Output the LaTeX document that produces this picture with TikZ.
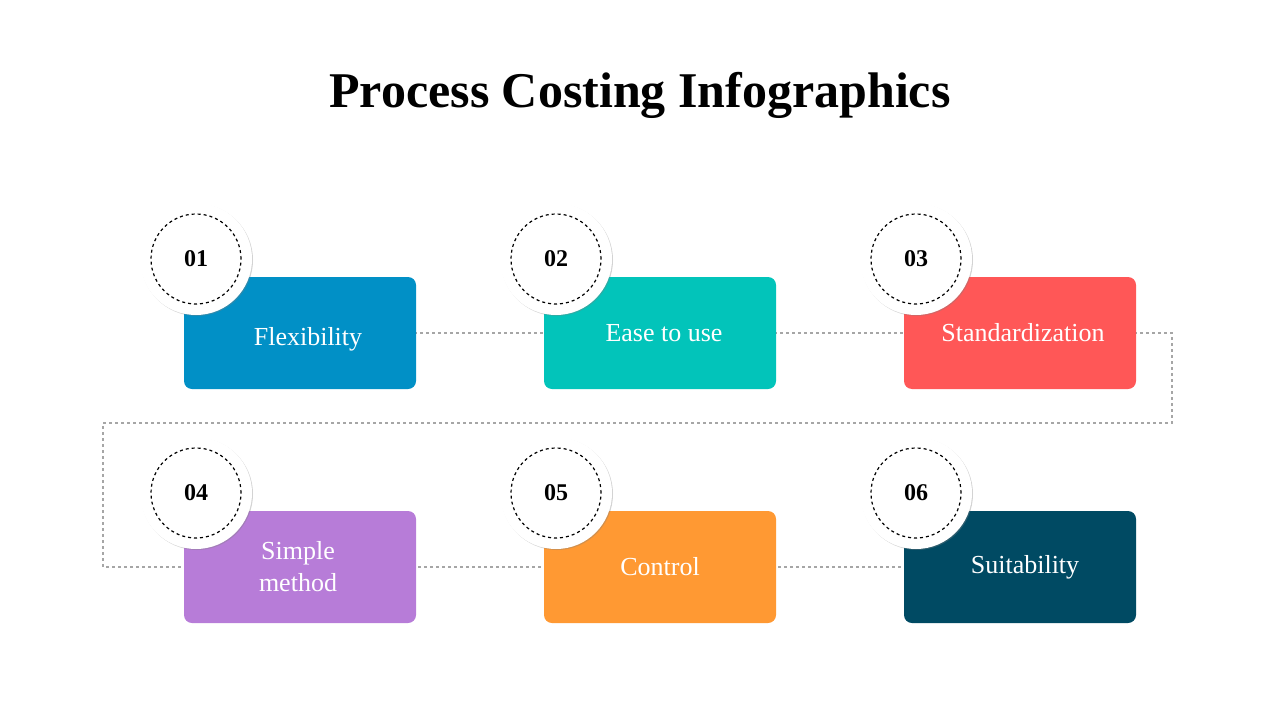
\documentclass[tikz,border=0pt]{standalone}
\usepackage{fontspec}
\setmainfont{Liberation Serif}
\usetikzlibrary{shadows}
\definecolor{c1}{HTML}{0190C6}
\definecolor{c2}{HTML}{02C4BA}
\definecolor{c3}{HTML}{FF5757}
\definecolor{c4}{HTML}{B77CD8}
\definecolor{c5}{HTML}{FF9933}
\definecolor{c6}{HTML}{004A63}
\tikzset{
 card/.style={rounded corners=8pt, minimum width=232pt, minimum height=112pt, inner sep=0pt},
 lbl/.style={text=white, font=\fontsize{26}{30}\selectfont, align=center},
 badge/.style={circle, fill=white, minimum size=112pt, inner sep=0pt, drop shadow={opacity=0.35, shadow xshift=1pt, shadow yshift=-1pt}},
 ring/.style={circle, draw=black, dashed, line width=1.2pt, minimum size=90pt, inner sep=0pt, font=\bfseries\fontsize{24}{28}\selectfont},
 link/.style={draw=gray!70, dashed, line width=1.2pt}
}
\begin{document}
\begin{tikzpicture}[x=1pt,y=-1pt]
\useasboundingbox (0,0) rectangle (1280,720);
\node[font=\bfseries\fontsize{50}{56}\selectfont] (title) at (640,95) {Process Costing Infographics};
\coordinate (r1) at (1172,333);
\coordinate (r2) at (1172,423);
\coordinate (l1) at (103,423);
\coordinate (l2) at (103,567);
\draw[link] (300,333) -- (1020,333) -- (r1) -- (r2) -- (l1) -- (l2) -- (1020,567);
\node[card, fill=c1] (b1) at (300,333) {};
\node[card, fill=c2] (b2) at (660,333) {};
\node[card, fill=c3] (b3) at (1020,333) {};
\node[card, fill=c4] (b4) at (300,567) {};
\node[card, fill=c5] (b5) at (660,567) {};
\node[card, fill=c6] (b6) at (1020,567) {};
\node[lbl] (t1) at (308,339) {Flexibility};
\node[lbl] (t2) at (664,333) {Ease to use};
\node[lbl] (t3) at (1023,333) {Standardization};
\node[lbl, font=\fontsize{26}{32}\selectfont] (t4) at (298,567) {Simple\\method};
\node[lbl] (t5) at (660,567) {Control};
\node[lbl] (t6) at (1025,567) {Suitability};
\foreach \n/\x/\y in {01/196/259, 02/556/259, 03/916/259, 04/196/493, 05/556/493, 06/916/493}{
 \node[badge] (c\n) at (\x,\y) {};
 \node[ring] (d\n) at (\x,\y) {\n};
}
\end{tikzpicture}
\end{document}
